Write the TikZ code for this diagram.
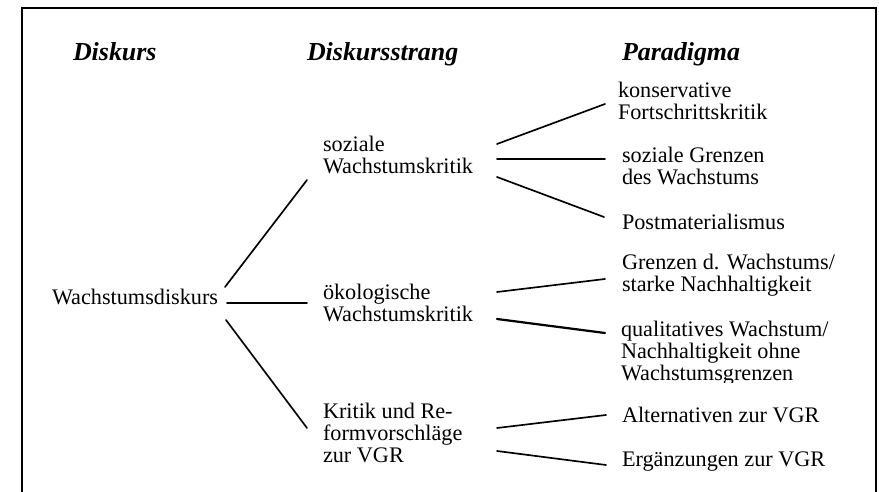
\documentclass[tikz,border=0pt]{standalone}
\usepackage{fontspec}
\setmainfont{Liberation Serif}
\begin{document}
\begin{tikzpicture}[x=0.54pt,y=-0.54pt,
  txt/.style={inner sep=0pt,outer sep=0pt,anchor=base west,align=left,font=\fontsize{12}{11.9}\selectfont},
  head/.style={inner sep=0pt,outer sep=0pt,anchor=base west,font=\fontsize{14}{16}\selectfont\bfseries\itshape},
  conn/.style={line width=0.9pt,line cap=round},
  frame/.style={line width=1pt}]
\useasboundingbox (0,0) rectangle (879,492);
% frame (open at the bottom)
\draw[frame] (22,492) -- (22,8) -- (876,8) -- (876,492);
% headings
\node[head] (h1) at (73,61) {Diskurs};
\node[head] (h2) at (307,61) {Diskursstrang};
\node[head] (h3) at (622,61) {Paradigma};
% nodes (anchor = baseline of the last line)
\node[txt] (w) at (52,305) {Wachstumsdiskurs};
\node[txt] (s) at (323,173.5) {soziale\\Wachstumskritik};
\node[txt] (o) at (323,321.5) {ökologische\\Wachstumskritik};
\node[txt] (k) at (323,463) {Kritik und Re-\\formvorschläge\\zur VGR};
\node[txt] (p1) at (618,119.5) {konservative\\Fortschrittskritik};
\node[txt] (p2) at (622,184.5) {soziale Grenzen\\des Wachstums};
\node[txt] (p3) at (622,230) {Postmaterialismus};
\node[txt] (p4) at (622,292) {Grenzen d. Wachstums/\\starke Nachhaltigkeit};
\begin{scope}
\clip (600,315) rectangle (870,383);
\node[txt] (p5) at (621,380.5) {qualitatives Wachstum/\\Nachhaltigkeit ohne\\Wachstumsgrenzen};
\end{scope}
\node[txt] (p6) at (622,422.5) {Alternativen zur VGR};
\node[txt] (p7) at (622,466.5) {Ergänzungen zur VGR};
% connector end points
\coordinate (w1) at (225,287); \coordinate (s1) at (307,180);
\coordinate (w2) at (227,303); \coordinate (s2) at (307,303);
\coordinate (w3) at (226,320); \coordinate (s3) at (307,428);
\coordinate (a1) at (497,144); \coordinate (b1) at (605,104);
\coordinate (a2) at (497,159); \coordinate (b2) at (605,159);
\coordinate (a3) at (497,177); \coordinate (b3) at (604,217);
\coordinate (c1) at (497,292); \coordinate (d1) at (605,279);
\coordinate (c2) at (497,319); \coordinate (d2) at (605,333);
\coordinate (e1) at (497,428); \coordinate (f1) at (606,415);
\coordinate (e2) at (497,451); \coordinate (f2) at (606,465);
% connectors
\draw[conn] (w1) -- (s1);
\draw[conn] (w2) -- (s2);
\draw[conn] (w3) -- (s3);
\draw[conn] (a1) -- (b1);
\draw[conn] (a2) -- (b2);
\draw[conn] (a3) -- (b3);
\draw[conn] (c1) -- (d1);
\draw[conn,line width=1.2pt] (c2) -- (d2);
\draw[conn] (e1) -- (f1);
\draw[conn] (e2) -- (f2);
\end{tikzpicture}
\end{document}
